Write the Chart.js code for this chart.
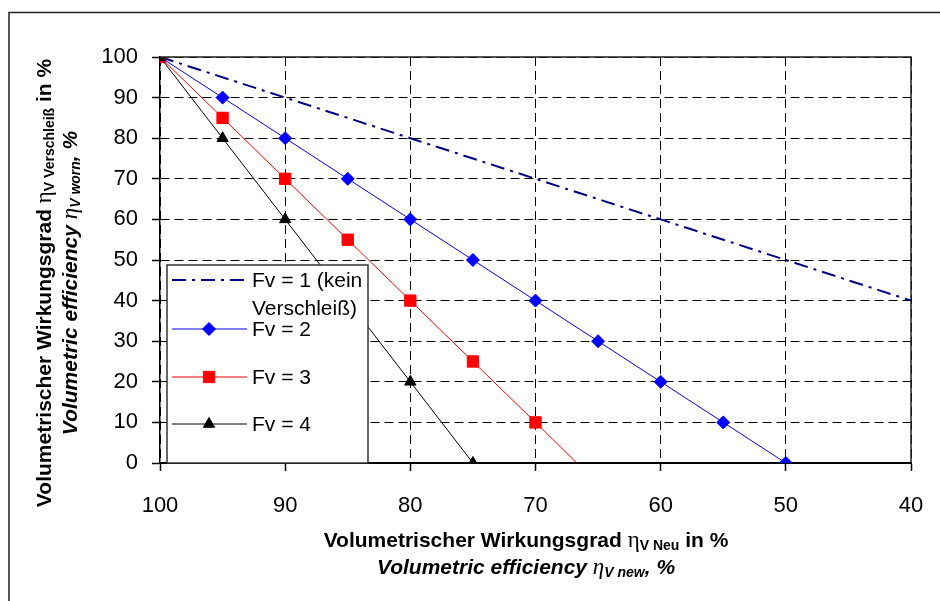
<!DOCTYPE html>
<html>
<head>
<meta charset="utf-8">
<script src="https://cdn.jsdelivr.net/npm/chart.js@4.4.1/dist/chart.umd.min.js"></script>
<style>
  html, body { margin: 0; padding: 0; background: #fff; }
  canvas { display: block; }
</style>
</head>
<body>
<canvas id="myChart" width="940" height="601"></canvas>
<script>
// Werte
const fv1X = [100, 90, 80, 70, 60, 50, 40];
const fv1Y = [100, 90, 80, 70, 60, 50, 40];
const fv2X = [100, 95, 90, 85, 80, 75, 70, 65, 60, 55, 50];
const fv2Y = [100, 90, 80, 70, 60, 50, 40, 30, 20, 10, 0];
const fv3X = [100, 95, 90, 85, 80, 75, 70, 66.7];
const fv3Y = [100, 85, 70, 55, 40, 25, 10, 0];
const fv4X = [100, 95, 90, 85, 80, 75];
const fv4Y = [100, 80, 60, 40, 20, 0];
const legendLabels = [['Fv = 1 (kein', 'Verschleiß)'], ['Fv = 2'], ['Fv = 3'], ['Fv = 4']];
const xTicks = [100, 90, 80, 70, 60, 50, 40];
const yTicks = [0, 10, 20, 30, 40, 50, 60, 70, 80, 90, 100];

const pts = (xs, ys) => xs.map((x, i) => ({x: x, y: ys[i]}));
const FONT = 'Arial, "Liberation Sans", sans-serif';

function drawRuns(ctx, runs, cx, cy) {
  let total = 0;
  runs.forEach(r => { ctx.font = r.font; r.w = ctx.measureText(r.t).width; total += r.w; });
  let x = cx - total / 2;
  ctx.textAlign = 'left';
  ctx.textBaseline = 'alphabetic';
  runs.forEach(r => { ctx.font = r.font; ctx.fillText(r.t, x, cy + (r.dy || 0)); x += r.w; });
}

// Rahmen, Achsentitel, Legende
const extras = {
  id: 'extras',
  beforeDraw(chart) {
    const ctx = chart.ctx;
    ctx.save();
    ctx.fillStyle = '#fff';
    ctx.fillRect(0, 0, chart.width, chart.height);
    ctx.strokeStyle = '#222';
    ctx.lineWidth = 1.5;
    ctx.strokeRect(9, 12.5, 1200, 1200);
    ctx.restore();
  },
  afterDatasetsDraw(chart) {
    const ctx = chart.ctx, a = chart.chartArea;
    ctx.save();
    // obere und rechte Begrenzung
    ctx.strokeStyle = '#222';
    ctx.lineWidth = 1.5;
    ctx.beginPath();
    ctx.moveTo(a.left, a.top);
    ctx.lineTo(a.right, a.top);
    ctx.lineTo(a.right, a.bottom);
    ctx.stroke();

    // Legende
    const lx = a.left + 7, ly = a.top + 208, lw = 201, lh = 198;
    ctx.fillStyle = '#fff';
    ctx.fillRect(lx, ly, lw, lh);
    ctx.strokeStyle = '#333';
    ctx.lineWidth = 1.5;
    ctx.strokeRect(lx, ly, lw, lh);
    const rowsY = [ly + 15, ly + 64, ly + 112, ly + 159];
    chart.data.datasets.forEach((ds, i) => {
      const y = rowsY[i];
      ctx.save();
      ctx.strokeStyle = ds.borderColor;
      ctx.lineWidth = ds.borderWidth;
      ctx.setLineDash(ds.borderDash || []);
      ctx.beginPath();
      ctx.moveTo(lx + 5, y);
      ctx.lineTo(lx + 80, y);
      ctx.stroke();
      ctx.restore();
      if (ds.pointStyle) {
        ctx.fillStyle = ds.backgroundColor;
        ctx.strokeStyle = ds.borderColor;
        ctx.lineWidth = 1;
        Chart.helpers.drawPoint(ctx, {pointStyle: ds.pointStyle, radius: ds.legendRadius, borderWidth: 1, rotation: 0}, lx + 42, y);
      }
      ctx.fillStyle = '#000';
      ctx.font = '21px ' + FONT;
      ctx.textAlign = 'left';
      ctx.textBaseline = 'middle';
      legendLabels[i].forEach((t, k) => ctx.fillText(t, lx + 85, y + 1 + k * 28));
    });
    ctx.restore();
  },
  afterDraw(chart) {
    const ctx = chart.ctx;
    ctx.save();
    ctx.fillStyle = '#000';
    const cx = 526;
    drawRuns(ctx, [
      {t: 'Volumetrischer Wirkungsgrad ', font: 'bold 21px ' + FONT},
      {t: 'η', font: '23px "Liberation Serif", serif'},
      {t: 'V Neu', font: 'bold 14px ' + FONT, dy: 3},
      {t: ' in %', font: 'bold 21px ' + FONT}
    ], cx, 547);
    drawRuns(ctx, [
      {t: 'Volumetric efficiency ', font: 'italic bold 21px ' + FONT},
      {t: 'η', font: 'italic 23px "Liberation Serif", serif'},
      {t: 'V new', font: 'italic bold 14px ' + FONT, dy: 3},
      {t: ', %', font: 'italic bold 21px ' + FONT}
    ], cx, 574);

    ctx.translate(0, 283);
    ctx.rotate(-Math.PI / 2);
    drawRuns(ctx, [
      {t: 'Volumetrischer Wirkungsgrad ', font: 'bold 21px ' + FONT},
      {t: 'η', font: '23px "Liberation Serif", serif'},
      {t: 'V Verschleiß', font: 'bold 14px ' + FONT, dy: 3},
      {t: ' in %', font: 'bold 21px ' + FONT}
    ], 0, 51);
    drawRuns(ctx, [
      {t: 'Volumetric efficiency ', font: 'italic bold 21px ' + FONT},
      {t: 'η', font: 'italic 23px "Liberation Serif", serif'},
      {t: 'V worn', font: 'italic bold 14px ' + FONT, dy: 3},
      {t: ', %', font: 'italic bold 21px ' + FONT}
    ], 0, 77);
    ctx.restore();
  }
};

new Chart(document.getElementById('myChart').getContext('2d'), {
  type: 'line',
  data: {
    datasets: [
      {data: pts(fv1X, fv1Y), borderColor: '#000080', backgroundColor: '#000080', borderWidth: 2,
       borderDash: [14, 6, 3, 6], pointRadius: 0, pointStyle: false, order: 3},
      {data: pts(fv2X, fv2Y), borderColor: '#0000ff', backgroundColor: '#0000ff', borderWidth: 1,
       pointStyle: 'rectRot', pointRadius: 6.5, legendRadius: 6.5, order: 2},
      {data: pts(fv3X, fv3Y), borderColor: '#ff0000', backgroundColor: '#ff0000', borderWidth: 1,
       pointStyle: 'rect', pointRadius: fv3X.map((x, i) => i === fv3X.length - 1 ? 0 : 8), legendRadius: 8, order: 1},
      {data: pts(fv4X, fv4Y), borderColor: '#000000', backgroundColor: '#000000', borderWidth: 1,
       pointStyle: 'triangle', pointRadius: 6.5, legendRadius: 6.5, order: 0}
    ]
  },
  options: {
    responsive: false,
    animation: false,
    layout: {padding: {left: 10, top: 57, right: 29, bottom: 78}},
    plugins: {legend: {display: false}, tooltip: {enabled: false}},
    elements: {line: {tension: 0}, point: {borderWidth: 1}},
    scales: {
      x: {
        type: 'linear', reverse: true, min: 40, max: 100,
        afterBuildTicks: s => { s.ticks = xTicks.map(v => ({value: v})); },
        afterFit: s => { s.height = 60; s.paddingLeft = 0; s.paddingRight = 0; },
        grid: {color: '#000', lineWidth: 1, tickLength: 8, tickColor: '#000', tickBorderDash: [], tickWidth: 1.5},
        border: {color: '#000', width: 2, dash: [9, 5]},
        ticks: {color: '#000', font: {family: FONT, size: 22}, padding: 22, maxRotation: 0}
      },
      y: {
        type: 'linear', min: 0, max: 100,
        afterBuildTicks: s => { s.ticks = yTicks.map(v => ({value: v})); },
        afterFit: s => { s.width = 150; s.paddingTop = 0; s.paddingBottom = 0; },
        grid: {color: '#000', lineWidth: 1, tickLength: 8, tickColor: '#000', tickBorderDash: [], tickWidth: 1.5},
        border: {color: '#000', width: 1.5, dash: [9, 5]},
        ticks: {color: '#000', font: {family: FONT, size: 22}, padding: 14}
      }
    }
  },
  plugins: [extras]
});
</script>
</body>
</html>
